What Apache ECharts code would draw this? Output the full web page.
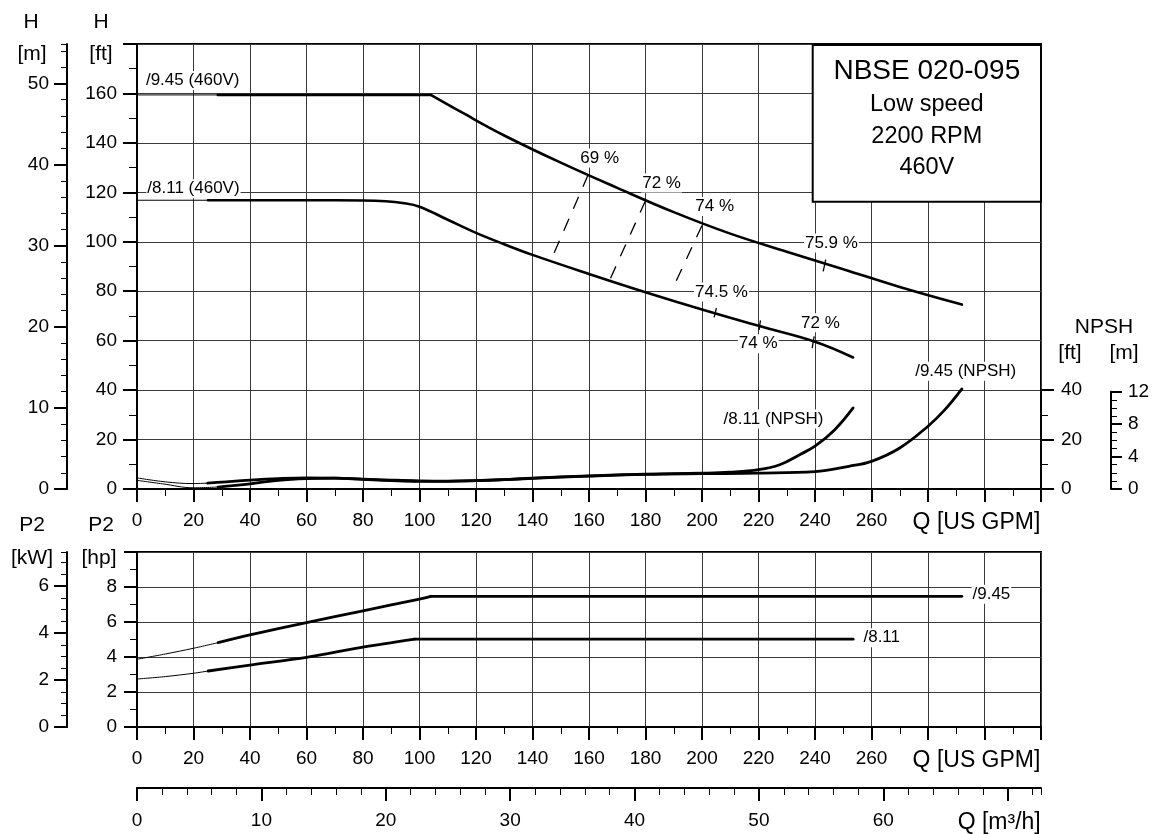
<!DOCTYPE html>
<html><head><meta charset="utf-8">
<script src="https://cdn.jsdelivr.net/npm/echarts@6/dist/echarts.min.js"></script>
<style>html,body{margin:0;padding:0;background:#fff}#c{width:1157px;height:834px}</style>
</head><body><div id="c"></div>
<script>
// ===== DATA (flow Q in US GPM) =====
// Head H [ft]
const h945Thin = [[0,159.4],[28.6,159.4]];
const h945 = [[28.6,159.4],[60,159.4],[104,159.4],[115,152.3],[130,143.0],[150,132.0],[170,121.8],[190,112.0],[210,103.3],[230,96.0],[250,88.9],[270,81.7],[292,74.6]];
const h945Kink = 104;
const h811Thin = [[0,116.8],[25.1,116.8]];
const h811 = [[25.1,116.8],[60,116.8],[80,116.7],[88,116.4],[94,115.7],[100,114.2],[110,108.9],[120,103.6],[130,99.0],[140,94.7],[160,87.0],[180,79.6],[200,72.6],[220,66.0],[240,59.6],[253.5,53.2]];
// NPSH [ft]
const npsh811Thin = [[0,4.5],[10,2.9],[20,2.2],[25,2.4]];
const npsh811 = [[25,2.4],[30,2.8],[40,3.6],[50,4.2],[60,4.5],[70,4.4],[80,3.9],[90,3.4],[100,3.1],[110,3.1],[120,3.4],[130,3.8],[140,4.4],[160,5.3],[180,6.0],[200,6.4],[210,6.8],[220,7.8],[227.5,9.8],[234.7,14.0],[240,17.3],[247,24.0],[253.5,32.8]];
const npsh945Thin = [[0,3.5],[9,2.1],[20,0.5],[28.7,0.8]];
const npsh945 = [[28.7,0.8],[40,2.1],[50,3.5],[60,4.2],[70,4.4],[80,4.0],[90,3.6],[100,3.3],[110,3.2],[120,3.4],[130,3.8],[140,4.3],[160,5.2],[180,5.9],[200,6.2],[220,6.4],[240,7.0],[252,9.2],[260,11.2],[270,16.6],[280,25.4],[286,32.1],[292,40.5]];
// Power P2 [hp]
const p945Thin = [[0,3.87],[10,4.17],[20,4.5],[28.7,4.82]];
const p945 = [[28.7,4.82],[40,5.26],[60,5.97],[80,6.64],[100,7.31],[104,7.47],[292,7.47]];
const p945Kink = 104;
const p811Thin = [[0,2.74],[10,2.88],[20,3.07],[25.2,3.2]];
const p811 = [[25.2,3.2],[40,3.54],[60,3.98],[80,4.56],[98.3,5.02],[253.5,5.02]];
const p811Kink = 98.3;
// Efficiency iso-lines (dashed), tick marks and labels [Q, H ft]
const effLines = [[[159.7,127.1],[146.7,93.0]],[[180,116.6],[167.4,84.7]],[[200,106.6],[190,82.0]]];
const effTicks = [[[243.8,92.8],[242.9,88.0]],[[205.1,73.2],[204.3,69.4]],[[220.7,68.2],[220.2,64.4]],[[239.7,61.7],[239.0,57.0]]];
const effLabels = [['69 %',163.8,133.9],['72 %',185.7,123.8],['74 %',204.5,114.3],['75.9 %',245.8,99.5],['74.5 %',206.9,79.7],['74 %',219.9,58.8],['72 %',241.9,67.2]];
const curveLabels = [['/9.45 (460V)',2.8,165.2],['/8.11 (460V)',3.3,121.5],['/8.11 (NPSH)',207.3,28.3],['/9.45 (NPSH)',275.1,47.6]];
const p2Labels = [['/9.45',295.4,7.59],['/8.11',256.8,5.10]];
const boxLines = ['NBSE 020-095','Low speed','2200 RPM','460V'];
// Axis ranges / ticks
const Q_MAX = 320, Q_STEP = 20, Q_LAST_LABEL = 260, Q_NAME_AT = 300;
const FT_MAX = 180, FT_STEP = 20, FT_LAST_LABEL = 160;
const M_LAST = 50, M_STEP = 10, M_MINOR = 2;
const NPSH_FT_MAX = 40, NPSH_FT_STEP = 20, NPSH_M_MAX = 12, NPSH_M_STEP = 4;
const HP_MAX = 10, HP_STEP = 2, HP_LAST_LABEL = 8;
const KW_LAST = 6, KW_STEP = 2, KW_MINOR = 0.5;
const M3H_LAST = 70, M3H_STEP = 10, M3H_MINOR = 2;

// ===== unit conversions =====
const M2FT = 3.28084, GPM_PER_M3H = 4.402868, HP_PER_KW = 1/0.7457;

// ===== layout =====
const FONT = '"Liberation Sans", Arial, Helvetica, sans-serif';
const L = 137, W = 904;
const T0 = 44, H0 = 445, B0 = T0 + H0;
const FTPX = H0 / FT_MAX;
const T1 = 552, H1 = 175, B1 = T1 + H1;
const HPPX = H1 / HP_MAX;
const YM3 = 788;

const lineAx = {show:true, onZero:false, lineStyle:{color:'#000', width:2}};
const gridLine = {show:true, lineStyle:{color:'#3a3a3a', width:1}};
const lbl = (o) => Object.assign({color:'#000', fontSize:19, fontFamily:FONT}, o);
const major = (len) => ({show:true, length:len, lineStyle:{color:'#000', width:2}});
const minorT = (n, len) => ({show:true, splitNumber:n, length:len, lineStyle:{color:'#000', width:1}});
const hiddenX = (g) => ({type:'value', gridIndex:g, min:0, max:Q_MAX, show:false});
const hiddenY = (g) => ({type:'value', gridIndex:g, min:0, max:1, show:false});
const gpmFmt = (v) => v === Q_NAME_AT ? '{q|Q [US GPM]}' : (v > Q_LAST_LABEL ? '' : String(v));
const gpmAxis = (g) => ({type:'value', gridIndex:g, min:0, max:Q_MAX, interval:Q_STEP, position:'bottom',
  axisLine:lineAx, axisTick:major(13), minorTick:minorT(2,7), splitLine:gridLine,
  axisLabel:lbl({margin:22, formatter:gpmFmt, rich:{q:{fontSize:23, fontFamily:FONT, color:'#000', padding:[0,16,0,0]}}})});

const mGridH = M_LAST * M2FT * FTPX;
const npshFtH = NPSH_FT_MAX * FTPX;
const npshMH = NPSH_M_MAX * M2FT * FTPX;
const kwGridH = KW_LAST * HP_PER_KW * HPPX;
const m3hW = M3H_LAST * GPM_PER_M3H / Q_MAX * W;

const gridBase = {containLabel:false, outerBoundsMode:'none'};
const grids = [
  Object.assign({left:L, width:W, top:T0, height:H0, show:true, borderColor:'#000', borderWidth:2}, gridBase),
  Object.assign({left:L, width:W, top:B0-mGridH, height:mGridH}, gridBase),
  Object.assign({left:L, width:W, top:B0-npshFtH, height:npshFtH}, gridBase),
  Object.assign({left:L, width:W, top:B0-npshMH, height:npshMH}, gridBase),
  Object.assign({left:L, width:W, top:T1, height:H1, show:true, borderColor:'#000', borderWidth:2}, gridBase),
  Object.assign({left:L, width:W, top:B1-kwGridH, height:kwGridH}, gridBase),
  Object.assign({left:L, width:W, top:YM3-1, height:1}, gridBase),
  Object.assign({left:L, width:m3hW, top:YM3-1, height:1}, gridBase)
];

const xAxes = [
  gpmAxis(0), hiddenX(1), hiddenX(2), hiddenX(3), gpmAxis(4), hiddenX(5),
  {type:'value', gridIndex:6, min:0, max:Q_MAX/GPM_PER_M3H, interval:M3H_MINOR, position:'bottom',
   axisLine:lineAx, axisTick:{show:true, length:7, lineStyle:{color:'#000', width:1}}, axisLabel:{show:false}, splitLine:{show:false}},
  {type:'value', gridIndex:7, min:0, max:M3H_LAST, interval:M3H_STEP, position:'bottom',
   axisLine:lineAx, axisTick:major(13), splitLine:{show:false},
   axisLabel:lbl({margin:23, formatter:(v)=> v===M3H_LAST ? '{q|Q [m³/h]}' : String(v),
     rich:{q:{fontSize:23, fontFamily:FONT, color:'#000', padding:[0,17,0,0]}}})}
];

const yAxes = [
  {type:'value', gridIndex:0, min:0, max:FT_MAX, interval:FT_STEP, position:'left',
   axisLine:lineAx, axisTick:major(14), minorTick:minorT(2,8), splitLine:gridLine,
   axisLabel:lbl({margin:20, formatter:(v)=> v>FT_LAST_LABEL ? '' : String(v)})},
  {type:'value', gridIndex:0, min:0, max:FT_MAX/M2FT, interval:M_MINOR, position:'left', offset:70,
   axisLine:lineAx, axisTick:{show:true, length:6, lineStyle:{color:'#000', width:1}}, axisLabel:{show:false}, splitLine:{show:false}},
  {type:'value', gridIndex:1, min:0, max:M_LAST, interval:M_STEP, position:'left', offset:70,
   axisLine:lineAx, axisTick:major(13), splitLine:{show:false}, axisLabel:lbl({margin:18})},
  {type:'value', gridIndex:2, min:0, max:NPSH_FT_MAX, interval:NPSH_FT_STEP, position:'right',
   axisLine:lineAx, axisTick:major(13), minorTick:minorT(2,7), splitLine:{show:false}, axisLabel:lbl({margin:20})},
  {type:'value', gridIndex:3, min:0, max:NPSH_M_MAX, interval:NPSH_M_STEP, position:'right', offset:70,
   axisLine:lineAx, axisTick:major(11), minorTick:minorT(4,6), splitLine:{show:false}, axisLabel:lbl({margin:17})},
  {type:'value', gridIndex:4, min:0, max:HP_MAX, interval:HP_STEP, position:'left',
   axisLine:lineAx, axisTick:major(13), minorTick:minorT(2,7), splitLine:gridLine,
   axisLabel:lbl({margin:20, formatter:(v)=> v>HP_LAST_LABEL ? '' : String(v)})},
  {type:'value', gridIndex:4, min:0, max:HP_MAX/HP_PER_KW, interval:KW_MINOR, position:'left', offset:70,
   axisLine:lineAx, axisTick:{show:true, length:6, lineStyle:{color:'#000', width:1}}, axisLabel:{show:false}, splitLine:{show:false}},
  {type:'value', gridIndex:5, min:0, max:KW_LAST, interval:KW_STEP, position:'left', offset:70,
   axisLine:lineAx, axisTick:major(13), splitLine:{show:false}, axisLabel:lbl({margin:18})},
  hiddenY(6), hiddenY(7)
];

function curve(data, width, xi, yi, smooth) {
  return {type:'line', xAxisIndex:xi, yAxisIndex:yi, data:data, symbol:'none', smooth:smooth,
    lineStyle:{color:'#000', width:width, cap:'round', join:'round'}, silent:true, animation:false, z:3};
}
// a curve with a sharp corner: straight part up to the kink, smooth part after (or before)
function kinked(data, kink, width, xi, yi, smoothBefore, smoothAfter) {
  return [curve(data.filter(p => p[0] <= kink), width, xi, yi, smoothBefore),
          curve(data.filter(p => p[0] >= kink), width, xi, yi, smoothAfter)];
}
function seg(data, dashed) {
  return {type:'line', xAxisIndex:0, yAxisIndex:0, data:data, symbol:'none', smooth:false,
    lineStyle:{color:'#000', width:1.3, type: dashed ? [13,11] : 'solid'}, silent:true, animation:false, z:3};
}
function labels(arr, xi, yi, leftAlign) {
  return {type:'scatter', xAxisIndex:xi, yAxisIndex:yi, symbolSize:0, itemStyle:{color:'#000', opacity:1},
    data: arr.map(d => ({name:d[0], value:[d[1], d[2]]})), silent:true, animation:false, z:6,
    label:{show:true, formatter:'{b}', color:'#000', opacity:1, fontSize:17, fontFamily:FONT, backgroundColor:'#fff', padding:[1,1],
      position: leftAlign ? [0,0] : 'inside', align: leftAlign ? 'left' : 'center', verticalAlign:'middle'}};
}

const series = [
  curve(h945Thin,1,0,0,false), ...kinked(h945, h945Kink, 2.6, 0, 0, false, 0.4),
  curve(h811Thin,1,0,0,false), curve(h811,2.6,0,0,0.4),
  curve(npsh811Thin,1,0,0,0.4), curve(npsh811,2.8,0,0,0.4),
  curve(npsh945Thin,1,0,0,0.4), curve(npsh945,2.8,0,0,0.4),
  curve(p945Thin,1,4,5,0.3), ...kinked(p945, p945Kink, 2.8, 4, 5, 0.3, false),
  curve(p811Thin,1,4,5,0.3), ...kinked(p811, p811Kink, 2.8, 4, 5, 0.3, false)
];
effLines.forEach(d => series.push(seg(d, true)));
effTicks.forEach(d => series.push(seg(d, false)));
series.push(labels(effLabels,0,0,false));
series.push(labels(curveLabels,0,0,true));
series.push(labels(p2Labels,4,5,true));

const tx = (text, x, y, size) => ({type:'text', x:x, y:y, z:20, silent:true,
  style:{text:text, align:'center', verticalAlign:'middle', fontSize:size, fontFamily:FONT, fill:'#000'}});
const boxX = 812.7, boxY = T0 + 1, boxW = L + W - boxX, boxHgt = 156.7;
const graphic = [
  tx('H',31,22,21), tx('[m]',32,54,21), tx('H',101,22,21), tx('[ft]',101,54,21),
  tx('NPSH',1104,327,21), tx('[ft]',1070,353,21), tx('[m]',1124,353,21),
  tx('P2',32,525,21), tx('[kW]',32,558,21), tx('P2',101,525,21), tx('[hp]',99,558,21),
  {type:'rect', z:15, silent:true, shape:{x:boxX, y:boxY, width:boxW, height:boxHgt}, style:{fill:'#fff', stroke:'#000', lineWidth:2}},
  tx(boxLines[0], boxX+boxW/2, 71.7, 28), tx(boxLines[1], boxX+boxW/2, 105, 23.5),
  tx(boxLines[2], boxX+boxW/2, 136.7, 23.5), tx(boxLines[3], boxX+boxW/2, 167.7, 23.5)
];

const chart = echarts.init(document.getElementById('c'), null, {renderer:'canvas'});
chart.setOption({
  animation:false, backgroundColor:'#fff',
  grid:grids, xAxis:xAxes, yAxis:yAxes, series:series, graphic:graphic
});
</script></body></html>
